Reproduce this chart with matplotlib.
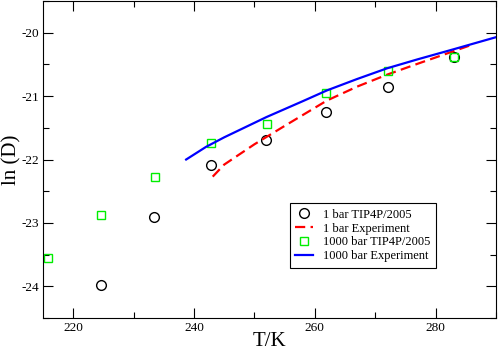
import matplotlib
matplotlib.use("Agg")
import matplotlib.pyplot as plt
from matplotlib.ticker import MultipleLocator

plt.rcParams['font.family'] = ['Liberation Serif', 'DejaVu Serif']
plt.rcParams['axes.unicode_minus'] = False

# 1 bar TIP4P/2005
t_1bar_sim = [224.6, 233.4, 242.8, 252.0, 261.9, 272.1, 283.0]
lnD_1bar_sim = [-23.98, -22.91, -22.09, -21.69, -21.25, -20.86, -20.38]

# 1 bar Experiment
t_1bar_exp = [243.1, 245.0, 250.0, 255.0, 262.0, 267.0, 272.0, 277.0, 283.0, 286.0]
lnD_1bar_exp = [-22.27, -22.08, -21.76, -21.47, -21.07, -20.85, -20.66, -20.49, -20.29, -20.19]

# 1000 bar TIP4P/2005
t_1000_sim = [215.9, 224.6, 233.5, 242.8, 252.1, 261.9, 272.2, 283.0]
lnD_1000_sim = [-23.56, -22.87, -22.27, -21.74, -21.44, -20.95, -20.61, -20.38]

# 1000 bar Experiment
t_1000_exp = [238.7, 242.0, 245.0, 252.0, 258.0, 262.0, 267.0, 272.0, 277.0, 283.0, 290.0]
lnD_1000_exp = [-22.00, -21.80, -21.65, -21.33, -21.08, -20.91, -20.73, -20.56, -20.42, -20.26, -20.07]

fig = plt.figure(figsize=(4.98, 3.52), dpi=100)
ax = fig.add_axes([0.0863, 0.0966, 0.9097, 0.9004])

ax.plot(t_1bar_sim, lnD_1bar_sim, linestyle='none', marker='o', ms=7,
        mfc='none', mec='black', mew=1.0, label='1 bar TIP4P/2005')
ax.plot(t_1bar_exp, lnD_1bar_exp, color='red', lw=1.6, dashes=(4.6, 2.4),
        label='1 bar Experiment')
ax.plot(t_1000_sim, lnD_1000_sim, linestyle='none', marker='s', ms=6.3,
        mfc='none', mec='#00ee00', mew=1.0, label='1000 bar TIP4P/2005')
ax.plot(t_1000_exp, lnD_1000_exp, color='blue', lw=1.6, label='1000 bar Experiment')

ax.set_xlim(215, 290)
ax.set_ylim(-24.5, -19.5)
ax.xaxis.set_major_locator(MultipleLocator(20))
ax.xaxis.set_minor_locator(MultipleLocator(10))
ax.yaxis.set_major_locator(MultipleLocator(1))
ax.yaxis.set_minor_locator(MultipleLocator(0.5))
ax.tick_params(which='both', direction='in', top=True, right=True, labelsize=9.5, width=0.8)
ax.tick_params(which='major', length=7)
ax.tick_params(which='minor', length=4)
ax.tick_params(axis='x', pad=3)
ax.tick_params(axis='y', pad=3)
for s in ax.spines.values():
    s.set_linewidth(0.8)

ax.set_xlabel('T/K', fontsize=15)
ax.xaxis.set_label_coords(0.5, -0.045)
ax.set_ylabel('ln (D)', fontsize=15)
ax.yaxis.set_label_coords(-0.089, 0.5)
ax.yaxis.label.set_va('top')

leg = ax.legend(loc='lower right', bbox_to_anchor=(0.8675, 0.158), borderaxespad=0,
                fontsize=9, frameon=True, fancybox=False, edgecolor='black', framealpha=1,
                handlelength=1.4, borderpad=0.45, labelspacing=0.15, handletextpad=0.8)
leg.get_frame().set_linewidth(0.8)

fig.savefig('out.png', dpi=100)
